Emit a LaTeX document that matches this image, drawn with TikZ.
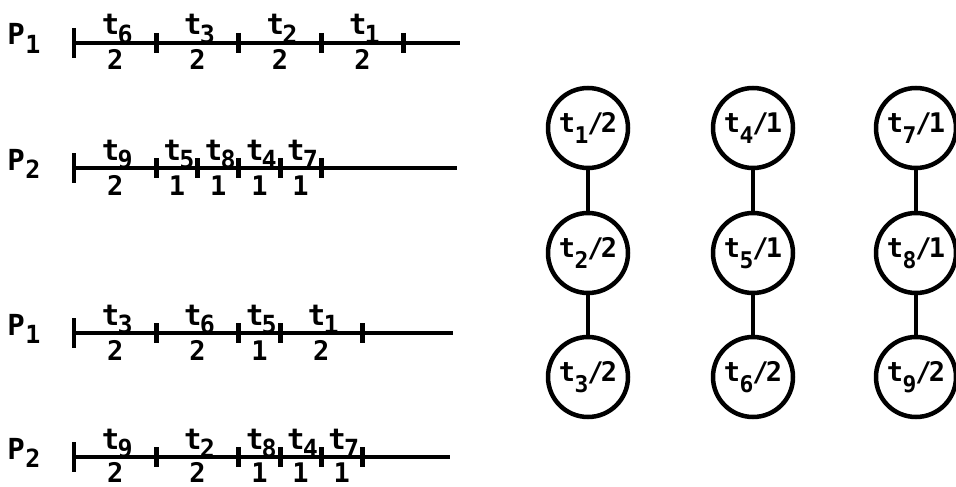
\documentclass[tikz,border=0pt]{standalone}
\usepackage{fontspec}
\setmainfont{DejaVu Sans Mono}
\newcommand\tlab[1]{t\kern-0.06em\raisebox{-0.3em}{\fontsize{25}{25}\selectfont #1}}
\newcommand\plab[1]{P\kern0.02em\raisebox{-0.3em}{\fontsize{25}{25}\selectfont #1}}
\newcommand\clab[2]{t\kern-0.02em\raisebox{-0.42em}{\fontsize{23}{23}\selectfont #1}\kern-0.04em/\kern-0.1em#2}
\begin{document}
\begin{tikzpicture}[x=1pt,y=-1pt,
  txt/.style={font=\fontsize{29}{30}\selectfont\bfseries, inner sep=0pt, anchor=base},
  num/.style={font=\fontsize{27}{28}\selectfont\bfseries, inner sep=0pt, anchor=base},
  axis/.style={line width=4.5pt},
  tick/.style={line width=5pt},
  starttick/.style={line width=4.5pt},
  task/.style={circle, draw, line width=4.5pt, minimum size=80pt, inner sep=0pt,
    font=\fontsize{27}{30}\selectfont\bfseries},
  edge/.style={line width=4.5pt}]
\useasboundingbox (0,0) rectangle (956,487);
\def\u{41.2}
\def\xo{74}
% ---- row 1: P1 (first schedule)
\node[txt] (p1a) at (24,45) {\plab{1}};
\coordinate (r1s) at (\xo,43);
\coordinate (r1e) at (460,43);
\draw[axis] (r1s) -- (r1e);
\draw[starttick] (\xo,28) -- (\xo,58);
\foreach \k in {2,4,6,8} \draw[tick] ({\xo+\u*\k},33) -- ({\xo+\u*\k},53);
\foreach \a/\b/\t/\n in {0/2/6/2, 2/4/3/2, 4/6/2/2, 6/8/1/2} {
  \node[txt] at ({\xo+\u*(\a+\b)/2+2},35) {\tlab{\t}};
  \node[num] at ({\xo+\u*(\a+\b)/2},70) {\n};
}
% ---- row 2: P2 (first schedule)
\node[txt] (p2a) at (24,170) {\plab{2}};
\coordinate (r2s) at (\xo,168);
\coordinate (r2e) at (457,168);
\draw[axis] (r2s) -- (r2e);
\draw[starttick] (\xo,153) -- (\xo,183);
\foreach \k in {2,3,4,5,6} \draw[tick] ({\xo+\u*\k},158) -- ({\xo+\u*\k},178);
\foreach \a/\b/\t/\n in {0/2/9/2, 2/3/5/1, 3/4/8/1, 4/5/4/1, 5/6/7/1} {
  \node[txt] at ({\xo+\u*(\a+\b)/2+2},160) {\tlab{\t}};
  \node[num] at ({\xo+\u*(\a+\b)/2},195) {\n};
}
% ---- row 3: P1 (second schedule)
\node[txt] (p1b) at (24,335) {\plab{1}};
\coordinate (r3s) at (\xo,333);
\coordinate (r3e) at (453,333);
\draw[axis] (r3s) -- (r3e);
\draw[starttick] (\xo,318) -- (\xo,348);
\foreach \k in {2,4,5,7} \draw[tick] ({\xo+\u*\k},323) -- ({\xo+\u*\k},343);
\foreach \a/\b/\t/\n in {0/2/3/2, 2/4/6/2, 4/5/5/1, 5/7/1/2} {
  \node[txt] at ({\xo+\u*(\a+\b)/2+2},325) {\tlab{\t}};
  \node[num] at ({\xo+\u*(\a+\b)/2},360) {\n};
}
% ---- row 4: P2 (second schedule)
\node[txt] (p2b) at (24,459) {\plab{2}};
\coordinate (r4s) at (\xo,457);
\coordinate (r4e) at (450,457);
\draw[axis] (r4s) -- (r4e);
\draw[starttick] (\xo,442) -- (\xo,472);
\foreach \k in {2,4,5,6,7} \draw[tick] ({\xo+\u*\k},447) -- ({\xo+\u*\k},467);
\foreach \a/\b/\t/\n in {0/2/9/2, 2/4/2/2, 4/5/8/1, 5/6/4/1, 6/7/7/1} {
  \node[txt] at ({\xo+\u*(\a+\b)/2+2},449) {\tlab{\t}};
  \node[num] at ({\xo+\u*(\a+\b)/2},482) {\n};
}
% ---- task graph
\node[task] (t1) at (588,128) {\clab{1}{2}};
\node[task] (t2) at (588,253) {\clab{2}{2}};
\node[task] (t3) at (588,377) {\clab{3}{2}};
\node[task] (t4) at (753,128) {\clab{4}{1}};
\node[task] (t5) at (753,253) {\clab{5}{1}};
\node[task] (t6) at (753,377) {\clab{6}{2}};
\node[task] (t7) at (916,128) {\clab{7}{1}};
\node[task] (t8) at (916,253) {\clab{8}{1}};
\node[task] (t9) at (916,377) {\clab{9}{2}};
\draw[edge] (t1) -- (t2);
\draw[edge] (t2) -- (t3);
\draw[edge] (t4) -- (t5);
\draw[edge] (t5) -- (t6);
\draw[edge] (t7) -- (t8);
\draw[edge] (t8) -- (t9);
\end{tikzpicture}
\end{document}
